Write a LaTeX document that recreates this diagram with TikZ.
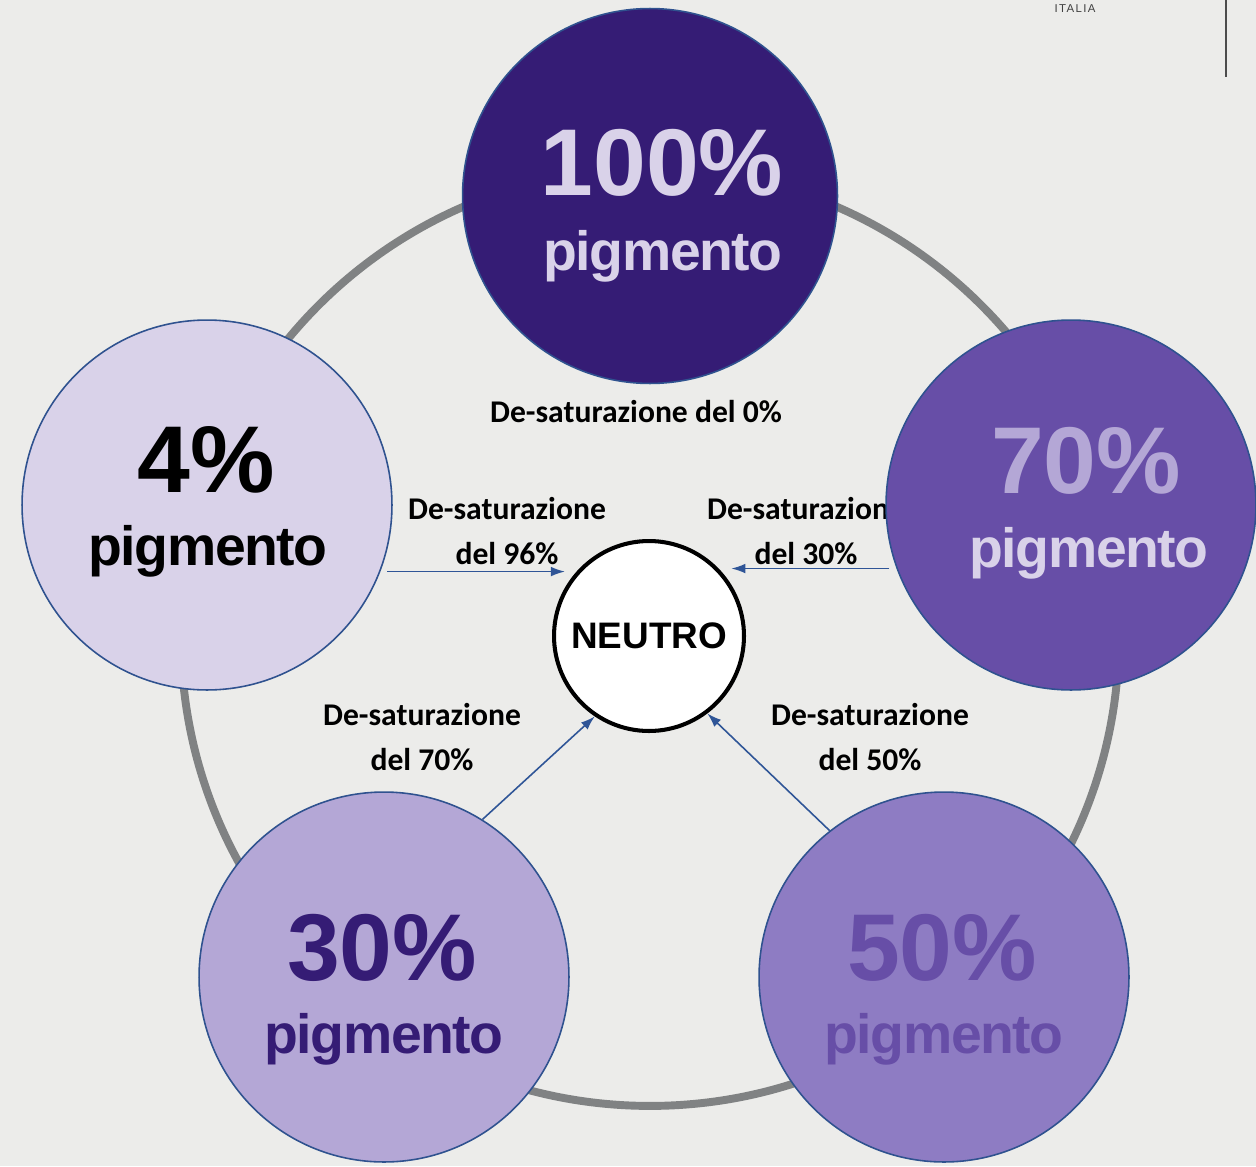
\documentclass[tikz,border=0pt]{standalone}
\usepackage{fontspec}
\setmainfont{Liberation Sans}
\newfontfamily\labelfont{Carlito}
\newfontfamily\pigfont[LetterSpace=-2.5]{Liberation Sans}
\newfontfamily\brandfont[LetterSpace=12]{Liberation Sans}
\usetikzlibrary{arrows.meta}
\definecolor{bgpaper}{HTML}{ECECEA}
\definecolor{ringgray}{HTML}{808283}
\definecolor{edgeblue}{HTML}{2F528F}
\definecolor{arrowblue}{HTML}{2F5597}
\definecolor{pdeep}{HTML}{351C75}
\definecolor{pmid}{HTML}{674EA7}
\definecolor{psoft}{HTML}{8E7CC3}
\definecolor{plight}{HTML}{B4A7D6}
\definecolor{ppale}{HTML}{D9D2E9}
\begin{document}
\begin{tikzpicture}[x=0.02cm,y=-0.02cm,
  disc/.style={circle, draw=edgeblue, line width=0.9pt, minimum size=7.4cm, inner sep=0pt},
  numtext/.style={anchor=base, inner sep=0pt, font=\fontsize{54}{54}\selectfont\bfseries},
  pigtext/.style={anchor=base, inner sep=0pt, font=\pigfont\fontsize{31.5}{31.5}\selectfont\bfseries},
  desat/.style={align=center, inner sep=0pt, font=\labelfont\fontsize{18}{25.5}\selectfont\bfseries},
  flow/.style={-{Latex[length=8pt,width=5.5pt]}, draw=arrowblue, line width=0.9pt}]
\fill[bgpaper] (0,0) rectangle (1256,1166);
\useasboundingbox (0,0) rectangle (1256,1166);
\node[font=\brandfont\fontsize{6.5}{6.5}\selectfont, text=black!75] (brand) at (1075,9) {ITALIA};
\draw[black!70, line width=0.6pt] (1226,0) -- (1226,77);
\draw[ringgray, line width=4.5pt] (650,637) circle[radius=9.38cm];
\node[desat] (d0) at (636,412) {De-saturazione del 0\%};
\node[desat] (d96) at (507,531) {De-saturazione\\del 96\%};
\node[desat] (d30) at (806,531) {De-saturazione\\del 30\%};
\node[desat] (d70) at (422,737) {De-saturazione\\del 70\%};
\node[desat] (d50) at (870,737) {De-saturazione\\del 50\%};
\node[disc, fill=pdeep, minimum size=7.5cm] (c100) at (650,196) {};
\node[disc, fill=ppale] (c4) at (207,505) {};
\node[disc, fill=pmid] (c70) at (1071,505) {};
\node[disc, fill=plight] (c30) at (384,977) {};
\node[disc, fill=psoft] (c50) at (944,977) {};
\node[numtext, text=ppale] (n100) at (662,195) {100\%};
\node[pigtext, text=ppale] (p100) at (663,270) {pigmento};
\node[numtext, text=black] (n4) at (206,492) {4\%};
\node[pigtext, text=black] (p4) at (208,565) {pigmento};
\node[numtext, text=plight] (n70) at (1086,493) {70\%};
\node[pigtext, text=ppale] (p70) at (1089,567) {pigmento};
\node[numtext, text=pdeep] (n30) at (382,980) {30\%};
\node[pigtext, text=pdeep] (p30) at (384,1053) {pigmento};
\node[numtext, text=pmid] (n50) at (942,980) {50\%};
\node[pigtext, text=pmid] (p50) at (944,1053) {pigmento};
\node[circle, draw=black, line width=2.3pt, fill=white, minimum size=3.8cm, inner sep=0pt,
  font=\fontsize{21}{21}\selectfont\bfseries] (neutro) at (649,636) {NEUTRO};
\draw[flow] ([xshift=4pt]c4.-21) -- (c4.-21 -| neutro.150);
\draw[flow] ([xshift=-4pt]c70.-160) -- (c70.-160 -| neutro.32);
\draw[flow] (c30.58) -- (neutro.236);
\draw[flow] (c50.128) -- (neutro.-53);
\end{tikzpicture}
\end{document}
